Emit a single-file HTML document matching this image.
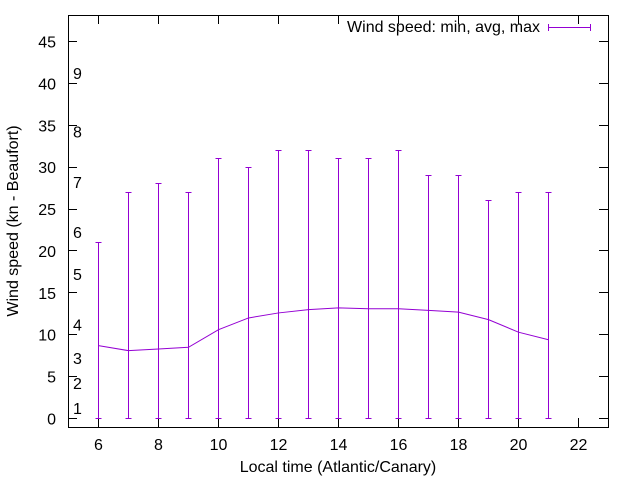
<!DOCTYPE html>
<html><head><meta charset="utf-8"><style>
body{margin:0;background:#fff}
text{font-family:"Liberation Sans",sans-serif;font-size:16px;fill:#000}
</style></head><body>
<svg width="640" height="480">
<g id="axes"></g><g id="series"></g>
<rect x="68.5" y="15.5" width="540" height="412" fill="none" stroke="#000"/>
<text x="338" y="472" text-anchor="middle">Local time (Atlantic/Canary)</text>
<text transform="translate(18,221) rotate(-90)" text-anchor="middle">Wind speed (kn - Beaufort)</text>
<g>
<text x="540" y="32" text-anchor="end">Wind speed: min, avg, max</text>
<line x1="548" y1="27.5" x2="591" y2="27.5" stroke="#9400d3"/>
<line x1="548.5" y1="24" x2="548.5" y2="31" stroke="#9400d3"/>
<line x1="590.5" y1="24" x2="590.5" y2="31" stroke="#9400d3"/>
</g>
</svg>
<script>
const hours=[6,7,8,9,10,11,12,13,14,15,16,17,18,19,20,21];
const avgSpeed=[8.7,8.1,8.3,8.5,10.6,12,12.6,13,13.2,13.1,13.1,12.9,12.7,11.8,10.3,9.4];
const minSpeed=[0,0,0,0,0,0,0,0,0,0,0,0,0,0,0,0];
const maxSpeed=[21,27,28,27,31,30,32,32,31,31,32,29,29,26,27,27];
const xTicks=[6,8,10,12,14,16,18,20,22];
const yTicks=[0,5,10,15,20,25,30,35,40,45];
const beaufortLevels=[1,4,7,11,17,22,28,34,41];
const beaufortLabels=["1","2","3","4","5","6","7","8","9"];
const NS="http://www.w3.org/2000/svg";
const X=v=>68.5+(v-5)*30, Y=v=>418.5-(v)*(377/45);
const ax=document.getElementById('axes'), se=document.getElementById('series');
function mk(p,tag,a,t){const e=document.createElementNS(NS,tag);for(const k in a)e.setAttribute(k,a[k]);if(t!==undefined)e.textContent=t;p.appendChild(e);return e;}
yTicks.forEach(v=>{
 const y=Math.round(Y(v)-0.5)+0.5;
 const l=mk(ax,'line',{x1:68,x2:77,y1:y,y2:y,stroke:'#000'});
 
 
 const l2=mk(ax,'line',{x1:599,x2:608,y1:y,y2:y,stroke:'#000'});
 
 
 const t=mk(ax,'text',{x:56,y:Y(v)+6,'text-anchor':'end'},String(v));
 
 
});
xTicks.forEach(v=>{
 const l=mk(ax,'line',{x1:X(v),x2:X(v),y1:427,y2:418,stroke:'#000'});
 
 
 const l2=mk(ax,'line',{x1:X(v),x2:X(v),y1:15,y2:24,stroke:'#000'});
 
 
 const t=mk(ax,'text',{x:X(v),y:450,'text-anchor':'middle'},String(v));
 
 
});
beaufortLevels.forEach((v,i)=>{
 const t=mk(ax,'text',{x:73,y:Y(v)+4},beaufortLabels[i]);
 
 
});
const c='#9400d3';
hours.forEach((h,i)=>{
 const g=mk(se,'g',{stroke:c,fill:'none'});
 
 
 const y0=Math.round(Y(minSpeed[i])-0.5)+0.5, y1=Math.round(Y(maxSpeed[i])-0.5)+0.5;
 mk(g,'line',{x1:X(h),x2:X(h),y1:y0,y2:y1});
 mk(g,'line',{x1:X(h)-3,x2:X(h)+3,y1:y0,y2:y0});
 mk(g,'line',{x1:X(h)-3,x2:X(h)+3,y1:y1,y2:y1});
});
const p=mk(se,'polyline',{fill:'none',stroke:c,points:hours.map((h,i)=>X(h)+','+Y(avgSpeed[i])).join(' ')});


</script>
</body></html>
